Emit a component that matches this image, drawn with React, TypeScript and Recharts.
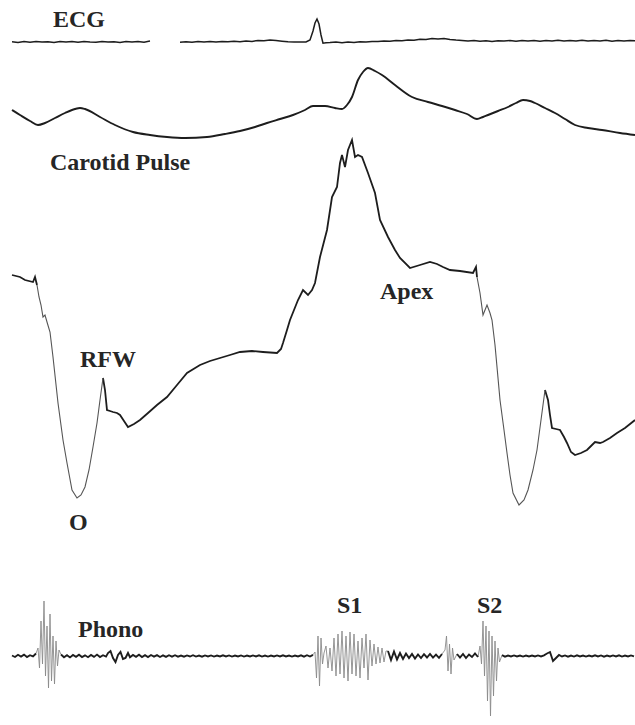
import React from "react";
import { LineChart, Line, XAxis, YAxis } from "recharts";

// whole sweep in ms (paper speed: 0.5 px per ms)
const SWEEP_MS = 1270;

type Run = { start: number; step: number; values: number[]; burst?: boolean };

// ECG (arbitrary units), sampled every 12 ms, pen lifted between 300 and 360 ms
const ecgBefore: Run = { start: 24, step: 12, values: [3.2, 2.6, 3.4, 2.8, 3.6, 2.9, 3.3, 2.5, 3.5, 3.0, 3.4, 2.7, 3.6, 3.1, 2.8, 3.5, 2.9, 3.3, 2.6, 3.4, 3.0, 3.6, 2.8, 3.9] };
const ecgLead: Run = { start: 360, step: 12, values: [2.8, 3.3, 2.7, 3.5, 3.0, 3.4, 2.9, 3.6, 3.2, 3.8, 3.3, 4.0, 3.6, 4.6, 4.2, 5.0, 4.4, 3.8, 3.2, 2.9, 3.1, 3.0] };
const qrsTimes = [620, 626, 630, 634, 638, 642, 646, 652];
const qrsValues = [5, 14, 22, 26, 21, 10, 1.8, 2.2];
const ecgAfter: Run = { start: 660, step: 12, values: [2.4, 2.9, 2.3, 3.0, 2.6, 3.3, 2.9, 3.6, 3.4, 4.1, 3.8, 4.6, 4.3, 5.1, 4.8, 5.8, 5.4, 6.6, 6.0, 6.4, 5.6, 5.0, 4.6, 4.0, 4.4, 3.7, 4.2, 3.6, 4.3, 3.9, 4.5, 3.8, 4.4, 3.9, 4.6, 3.8, 4.5, 4.0, 4.7, 3.9, 4.6, 4.1, 4.8, 3.9, 4.5, 4.0, 4.7, 3.8, 4.5, 4.1, 4.6, 4.2] };

// carotid pulse
const carotidTimes = [24, 40, 60, 76, 90, 110, 130, 150, 160, 170, 200, 230, 266, 300, 334, 370, 414, 450, 480, 510, 534, 560, 586, 610, 626, 650, 670, 684, 694, 704, 716, 726, 736, 750, 764, 790, 824, 856, 884, 910, 934, 954, 966, 976, 996, 1016, 1032, 1046, 1060, 1070, 1090, 1110, 1130, 1150, 1176, 1204, 1240, 1270];
const carotidLevels = [30, 25, 19, 15, 17, 22, 27, 31, 32, 31, 23, 15, 8, 5, 3, 2, 3, 6, 9, 13, 17, 21, 25, 30, 34, 34, 32, 31, 35, 43, 60, 68, 72, 69, 65, 55, 43, 38, 34, 30, 26, 21, 23, 25, 29, 33, 37, 40, 39, 37, 32, 27, 21, 15, 12, 10, 7, 5];

// apexcardiogram
const apexTimes = [24, 40, 50, 66, 70, 74, 78, 82, 86, 90, 94, 100, 106, 116, 126, 134, 144, 154, 162, 170, 178, 186, 194, 200, 206, 210, 214, 220, 226, 234, 240, 248, 256, 268, 280, 296, 314, 334, 354, 374, 400, 420, 440, 460, 480, 504, 526, 554, 562, 566, 574, 580, 588, 596, 606, 616, 624, 630, 640, 654, 664, 674, 680, 684, 690, 696, 704, 710, 716, 724, 736, 750, 760, 776, 790, 800, 820, 840, 860, 874, 886, 900, 920, 946, 952, 954, 960, 966, 974, 980, 984, 990, 1000, 1008, 1014, 1020, 1026, 1038, 1048, 1056, 1066, 1074, 1082, 1090, 1096, 1100, 1104, 1112, 1120, 1128, 1134, 1142, 1150, 1162, 1174, 1182, 1190, 1200, 1206, 1220, 1234, 1250, 1270];
const apexLevels = [235, 233, 230, 228, 233, 225, 213, 205, 193, 195, 188, 178, 153, 107, 70, 47, 20, 12, 15, 23, 40, 63, 87, 110, 132, 120, 100, 99, 98, 97, 95, 89, 83, 86, 90, 97, 105, 113, 125, 137, 145, 149, 152, 155, 158, 159, 158, 157, 161, 167, 180, 190, 200, 210, 220, 215, 220, 227, 253, 280, 313, 323, 347, 355, 343, 360, 370, 353, 355, 353, 337, 317, 290, 273, 260, 252, 242, 245, 248, 246, 243, 240, 239, 237, 243, 233, 217, 195, 205, 197, 190, 165, 110, 80, 57, 35, 17, 5, 10, 20, 40, 60, 90, 120, 110, 95, 82, 81, 80, 73, 67, 58, 55, 57, 60, 64, 68, 67, 68, 72, 77, 82, 90];
// rapid filling / emptying strokes printed faintly
const apexFastSpans = [[74, 206], [954, 1090]];

// phonocardiogram
const phonoRuns: Run[] = [
  { start: 24, step: 6, values: [0.5, -1.0, 1.2, -0.6, 1.4, -1.1, 0.8, -0.4, 2.5] },
  { start: 76, step: 3, burst: true, values: [8, -12, 35, -8, 55, -20, 30, -32, 42, -25, 20, -28, 15, -10, 6] },
  { start: 122, step: 6, values: [1.5, -1.2, 0.8, -1.4, 1.0, -0.8, 1.3, -1.0, 0.7, -1.2, 1.1, -0.9, 1.4, -1.0, 0.8, -0.6] },
  { start: 216, step: 5, values: [3, 5, -2, -6, 1, 4, -3, -2, 3] },
  { start: 260, step: 6, values: [-1.2, 1.0, -0.8, 1.3, -1.0, 0.9, -1.1, 1.0, -0.7, 0.9, -1.0, 0.7, -0.9, 0.8, -0.6, 0.8, -0.7, 0.5, -0.7, 0.6, -0.5, 0.8, -0.6, 0.4, -0.7, 0.6, -0.4, 0.6, -0.6, 0.5, -0.5, 0.7, -0.4, 0.6, -0.6, 0.4, -0.5, 0.6, -0.6, 0.4, -0.5, 0.6, -0.4, 0.7, -0.6, 0.5, -0.6, 0.4, -0.5, 0.6, -0.5, 0.7, -0.4, 0.5, -0.6, 0.5, -0.4, 0.7, -0.6, 0.8, -0.5, 1.2] },
  { start: 630, step: 3, burst: true, values: [4, -22, 20, -30, 18, -8, 3] },
  { start: 652, step: 4, burst: true, values: [10, -12, 8, -15, 18, -20, 22, -18, 25, -22, 20, -25, 24, -18, 22, -20, 15, -22, 18, -12, 22, -24, 16, -10, 12, -8, 9, -7, 8, -6, 5] },
  { start: 776, step: 6, values: [5, -4, 4.5, -3.5, 3, -3, 2.5, -2, 2, -2.5, 1.5, -2, 1.8, -1.5, 2, -1.6, 1.4, -1.8, 2] },
  { start: 890, step: 3, burst: true, values: [6, 20, -15, 12, -18, 8, -4] },
  { start: 914, step: 6, values: [2, -1.5, 2, -2, 1.5, -1, 2.5, -1] },
  { start: 960, step: 3, burst: true, values: [10, -8, 35, -20, 30, -45, 25, -60, 20, -40, 15, -25, 8, -6] },
  { start: 1004, step: 6, values: [0.8, -0.6, 0.5, -0.4, 0.6, -0.5, 0.4, -0.6, 0.5, -0.4, 0.5, -0.5, 0.6, -0.4, 0.7, 2.5, 4.0, -5.0, -2.0, 1.0, -0.5, 0.6, -0.7, 0.5, -0.6, 0.7, -0.4, 0.5, -0.6, 0.5, -0.5, 0.7, -0.5, 0.6, -0.7, 0.4, -0.5, 0.6, -0.5, 0.7, -0.6, 0.4, -0.5, 0.6, -0.4] },
];

const labels = [
  { text: "ECG", left: 53, top: 7 },
  { text: "Carotid Pulse", left: 50, top: 150 },
  { text: "Apex", left: 380, top: 279 },
  { text: "RFW", left: 80, top: 347 },
  { text: "O", left: 69, top: 510 },
  { text: "S1", left: 337, top: 593 },
  { text: "S2", left: 477, top: 593 },
  { text: "Phono", left: 78, top: 617 },
];

const expand = (r: Run) => r.values.map((v, i) => ({ t: r.start + i * r.step, v, burst: !!r.burst }));

const ecgData = [
  ...expand(ecgBefore),
  { t: 330, v: null },
  ...expand(ecgLead),
  ...qrsTimes.map((t, i) => ({ t, v: qrsValues[i] })),
  ...expand(ecgAfter),
];

const carotidData = carotidTimes.map((t, i) => ({ t, v: carotidLevels[i] }));

const inside = (t: number) => apexFastSpans.some(([a, b]) => t > a && t < b);
const onSpan = (t: number) => apexFastSpans.some(([a, b]) => t >= a && t <= b);
const apexData = apexTimes.map((t, i) => ({
  t,
  slow: inside(t) ? null : apexLevels[i],
  fast: onSpan(t) ? apexLevels[i] : null,
}));

const phonoRows = phonoRuns.flatMap(expand);
const phonoData = phonoRows.map((r, i) => {
  const near = r.burst || phonoRows[i - 1]?.burst || phonoRows[i + 1]?.burst;
  return { t: r.t, quiet: r.burst ? null : r.v, loud: near ? r.v : null };
});

const INK = "#1d1d1d";

const Strip = ({ top, height, domain, data, children }: any) => (
  <div style={{ position: "absolute", left: 0, top }}>
    <LineChart width={635} height={height} data={data} margin={{ top: 0, right: 0, bottom: 0, left: 0 }}>
      <XAxis type="number" dataKey="t" domain={[0, SWEEP_MS]} allowDataOverflow hide />
      <YAxis type="number" domain={domain} allowDataOverflow hide />
      {children}
    </LineChart>
  </div>
);

export default function App() {
  return (
    <div style={{ position: "absolute", left: 0, top: 0, width: 635, height: 725, background: "#fff", overflow: "hidden" }}>
      <Strip top={15} height={35} domain={[-5, 30]} data={ecgData}>
        <Line dataKey="v" type="linear" stroke={INK} strokeWidth={1.5} dot={false} isAnimationActive={false} />
      </Strip>
      <Strip top={60} height={80} domain={[0, 80]} data={carotidData}>
        <Line dataKey="v" type="monotone" stroke={INK} strokeWidth={1.9} dot={false} isAnimationActive={false} />
      </Strip>
      <Strip top={130} height={380} domain={[0, 380]} data={apexData}>
        <Line dataKey="slow" type="linear" stroke={INK} strokeWidth={1.8} dot={false} isAnimationActive={false} />
        <Line dataKey="fast" type="linear" stroke="#555" strokeWidth={1.1} dot={false} isAnimationActive={false} />
      </Strip>
      <Strip top={596} height={120} domain={[-60, 60]} data={phonoData}>
        <Line dataKey="loud" type="linear" stroke="#8a8a8a" strokeWidth={0.9} dot={false} isAnimationActive={false} />
        <Line dataKey="quiet" type="linear" stroke={INK} strokeWidth={1.9} dot={false} isAnimationActive={false} />
      </Strip>
      {labels.map((l) => (
        <div
          key={l.text}
          style={{
            position: "absolute",
            left: l.left,
            top: l.top,
            fontFamily: '"Liberation Serif", "Times New Roman", serif',
            fontWeight: "bold",
            fontSize: 24,
            lineHeight: "24px",
            color: "#262626",
            whiteSpace: "nowrap",
          }}
        >
          {l.text}
        </div>
      ))}
    </div>
  );
}
